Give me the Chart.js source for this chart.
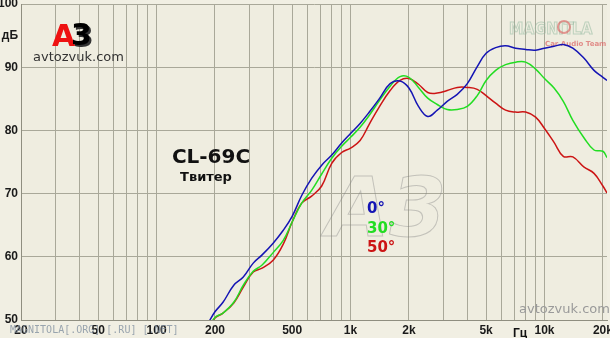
<!DOCTYPE html>
<html>
<head>
<meta charset="utf-8">
<script src="https://cdn.jsdelivr.net/npm/chart.js@4/dist/chart.umd.min.js"></script>
<style>
  html, body { margin: 0; padding: 0; background: #f1efe3; }
  #wrap { width: 610px; height: 338px; position: relative; overflow: hidden; }
</style>
</head>
<body>
<div id="wrap"><canvas id="chart" width="610" height="338"></canvas></div>
<script>
// frequencies, Hz
var freqs = [185, 200, 220, 250, 280, 315, 350, 400, 450, 500, 560, 630, 710, 800, 900,
  1000, 1120, 1250, 1400, 1600, 1800, 2000, 2240, 2500, 2800, 3150, 3550, 4000, 4500,
  5000, 5600, 6300, 7100, 8000, 9000, 10000, 11200, 12500, 14000, 16000, 18000, 20000, 21000];

// SPL, dB
var deg0 = [49.6, 51.3, 52.8, 55.5, 56.8, 59.0, 60.3, 62.2, 64.2, 66.4, 69.7, 72.4, 74.5, 76.1, 78.0,
  79.5, 81.1, 82.9, 84.9, 87.4, 87.8, 86.7, 83.8, 82.2, 83.2, 84.6, 85.7, 87.4, 90.1,
  92.2, 93.1, 93.4, 93.0, 92.8, 92.7, 93.0, 93.3, 93.6, 93.0, 91.4, 89.5, 88.4, 87.9];
var deg30 = [48.6, 50.4, 51.1, 52.8, 55.5, 57.7, 58.7, 60.7, 62.6, 65.5, 68.5, 70.5, 73.1, 75.6, 77.5,
  78.9, 80.5, 82.4, 84.6, 87.0, 88.5, 88.4, 86.8, 85.1, 84.1, 83.3, 83.3, 83.8, 85.5,
  87.9, 89.5, 90.4, 90.8, 90.8, 89.7, 88.2, 86.7, 84.6, 81.6, 78.8, 76.9, 76.7, 75.7];
var deg50 = [48.6, 50.3, 51.1, 52.7, 55.2, 57.6, 58.2, 59.5, 62.0, 65.5, 68.5, 69.6, 71.2, 74.8, 76.5,
  77.2, 78.4, 81.0, 83.6, 86.3, 87.9, 88.2, 87.3, 86.0, 85.9, 86.3, 86.8, 86.8, 86.5,
  85.5, 84.3, 83.2, 82.9, 82.9, 82.1, 80.3, 78.1, 75.9, 75.8, 74.2, 73.2, 71.2, 70.1];

var seriesNames = ['0°', '30°', '50°'];
var seriesColors = ['#1414b4', '#22dd22', '#cc1414'];

var xGrid = [20, 30, 40, 50, 60, 70, 80, 90, 100, 200, 300, 400, 500, 600, 700, 800, 900,
  1000, 2000, 3000, 4000, 5000, 6000, 7000, 8000, 9000, 10000, 20000];
var xLabels = {20: '20', 50: '50', 100: '100', 200: '200', 500: '500', 1000: '1k',
  2000: '2k', 5000: '5k', 10000: '10k', 20000: '20k'};
var yTicks = [50, 60, 70, 80, 90, 95, 100];

var gridColor = '#a9a899';

function pts(arr) {
  return freqs.map(function (f, i) { return {x: f, y: arr[i]}; });
}

var overlay = {
  id: 'overlay',
  beforeDraw: function (chart) {
    var c = chart.ctx;
    c.save();
    c.fillStyle = '#f1efe3';
    c.fillRect(0, 0, chart.width, chart.height);
    var a = chart.chartArea;
    c.fillStyle = '#efede0';
    c.fillRect(a.left, a.top, a.right - a.left, a.bottom - a.top);
    c.restore();
  },
  beforeDatasetsDraw: function (chart) {
    var c = chart.ctx;
    c.save();
    // big faint A3 watermark
    c.font = 'italic bold 82px "DejaVu Sans"';
    c.strokeStyle = 'rgba(130,130,130,0.4)';
    c.lineWidth = 1;
    c.textBaseline = 'alphabetic';
    c.strokeText('A3', 326, 236);
    // magnitola logo
    c.font = 'bold 16px "DejaVu Sans Condensed"';
    c.strokeStyle = 'rgba(150,185,160,0.55)';
    c.strokeText('MAGNIT', 509, 34);
    c.strokeText('LA', 572, 34);
    c.strokeStyle = 'rgba(220,90,90,0.6)';
    c.lineWidth = 2;
    c.beginPath();
    c.arc(564, 27, 6, 0, Math.PI * 2);
    c.stroke();
    c.font = 'bold 7px "DejaVu Sans"';
    c.fillStyle = 'rgba(220,100,100,0.7)';
    c.fillText('Car Audio Team', 545, 46);
    c.restore();
  },
  afterDraw: function (chart) {
    var c = chart.ctx;
    c.save();
    c.textBaseline = 'alphabetic';
    // A3 logo
    c.font = 'bold 30px "DejaVu Sans"';
    c.fillStyle = '#333';
    c.fillText('3', 73, 47);
    c.fillStyle = '#ee1111';
    c.fillText('A', 52, 46);
    c.fillStyle = '#000';
    c.fillText('3', 71, 45);
    c.font = '13px "DejaVu Sans"';
    c.fillStyle = '#333';
    c.fillText('avtozvuk.com', 33, 61);
    // model
    c.textAlign = 'center';
    c.fillStyle = '#111';
    c.font = 'bold 20px "DejaVu Sans"';
    c.fillText('CL-69C', 211, 163);
    c.font = 'bold 13px "DejaVu Sans"';
    c.fillText('Твитер', 206, 181);
    // legend
    c.textAlign = 'left';
    c.font = 'bold 15px "DejaVu Sans"';
    var ly = [213, 233, 252];
    for (var i = 0; i < seriesNames.length; i++) {
      c.fillStyle = seriesColors[i];
      c.fillText(seriesNames[i], 367, ly[i]);
    }
    // unit
    c.fillStyle = '#111';
    c.font = 'bold 12px "Liberation Sans"';
    c.fillText('Гц', 513, 337);
    // watermarks
    c.font = '13px "DejaVu Sans"';
    c.fillStyle = '#9a9a9a';
    c.fillText('avtozvuk.com', 519, 313);
    c.font = '10px "DejaVu Sans Mono"';
    c.fillStyle = 'rgba(130,145,160,0.8)';
    c.fillText('MAGNITOLA[.ORG] [.RU] [.NET]', 10, 333);
    c.restore();
  }
};

new Chart(document.getElementById('chart'), {
  type: 'line',
  data: {
    datasets: [
      {label: seriesNames[0], data: pts(deg0), borderColor: seriesColors[0]},
      {label: seriesNames[1], data: pts(deg30), borderColor: seriesColors[1]},
      {label: seriesNames[2], data: pts(deg50), borderColor: seriesColors[2]}
    ]
  },
  options: {
    responsive: false,
    animation: false,
    layout: {padding: {top: 4, right: 3, left: 0, bottom: 0}},
    elements: {
      line: {borderWidth: 1.5, tension: 0.4, fill: false},
      point: {radius: 0}
    },
    plugins: {
      legend: {display: false},
      tooltip: {enabled: false}
    },
    scales: {
      x: {
        type: 'logarithmic',
        min: 20,
        max: 21000,
        afterBuildTicks: function (scale) {
          scale.ticks = xGrid.map(function (v) { return {value: v}; });
        },
        afterFit: function (scale) {
          scale.height = 18;
          scale.paddingLeft = 0;
          scale.paddingRight = 0;
        },
        grid: {color: gridColor, drawTicks: false},
        border: {color: '#8f8e80'},
        ticks: {
          autoSkip: false,
          maxRotation: 0,
          padding: 3,
          color: '#1a1a1a',
          font: {family: 'Liberation Sans', size: 12, weight: 'bold'},
          callback: function (v) { return xLabels[v] || ''; }
        }
      },
      y: {
        min: 50,
        max: 100,
        afterBuildTicks: function (scale) {
          scale.ticks = yTicks.map(function (v) { return {value: v}; });
        },
        afterFit: function (scale) {
          scale.width = 21;
          scale.paddingTop = 0;
          scale.paddingBottom = 0;
        },
        grid: {
          drawTicks: false,
          color: function (ctx) {
            return ctx.tick && ctx.tick.value === 95 ? 'rgba(0,0,0,0)' : gridColor;
          }
        },
        border: {color: '#8f8e80'},
        ticks: {
          autoSkip: false,
          padding: 3,
          color: '#1a1a1a',
          font: {family: 'Liberation Sans', size: 12, weight: 'bold'},
          callback: function (v) { return v === 95 ? 'дБ' : v; }
        }
      }
    }
  },
  plugins: [overlay]
});
</script>
</body>
</html>
